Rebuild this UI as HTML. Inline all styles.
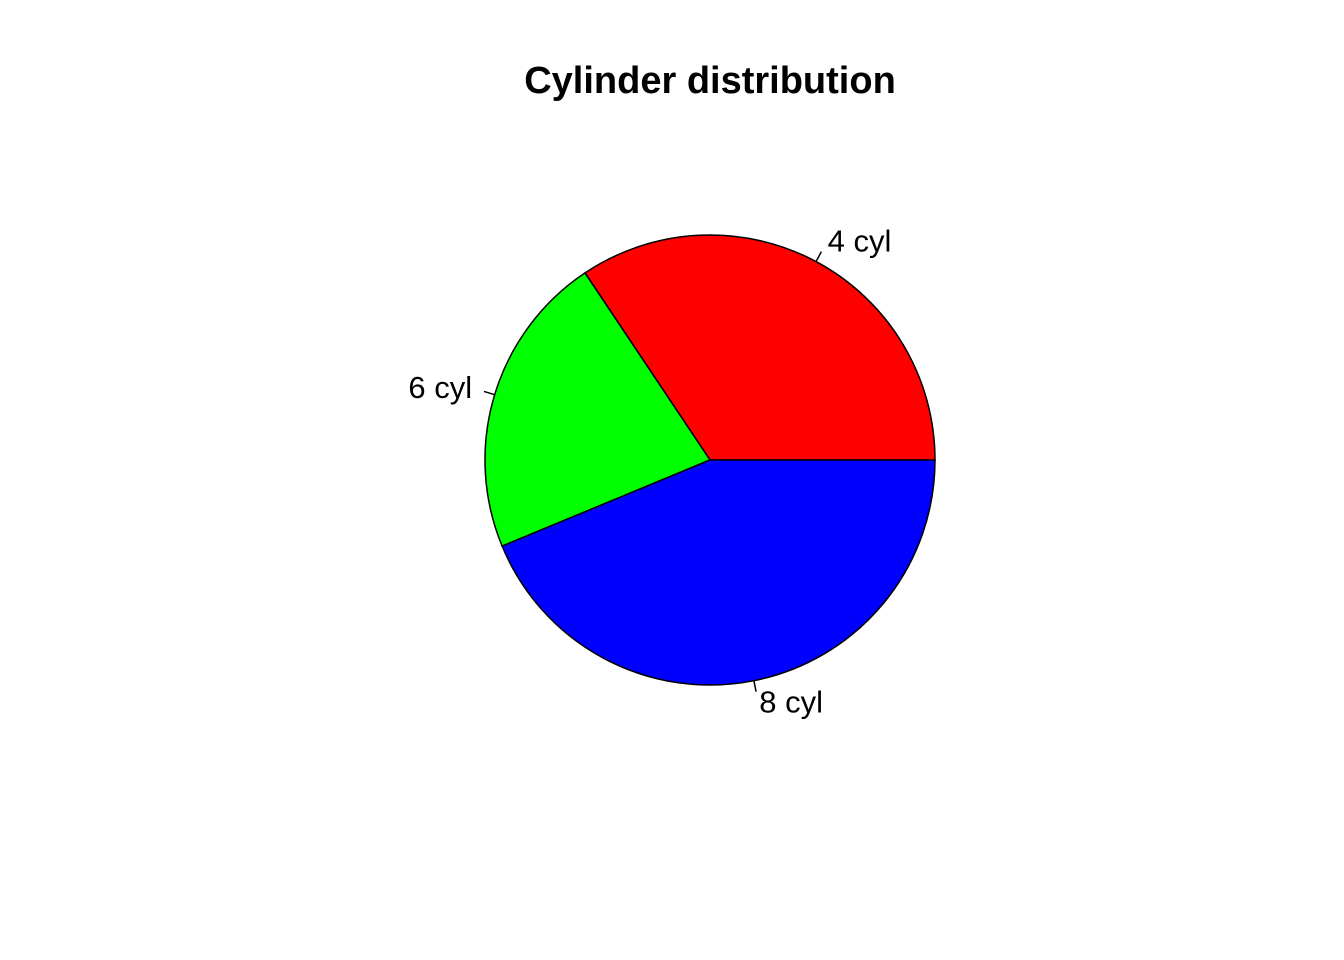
<!DOCTYPE html>
<html><head><meta charset="utf-8"><style>
html,body{margin:0;padding:0;background:#fff;}
svg{display:block;font-family:"Liberation Sans",sans-serif;}
</style></head><body>
<svg id="chart" width="1344" height="960" viewBox="0 0 1344 960">
<rect width="1344" height="960" fill="#fff"/>
<text x="710" y="93" text-anchor="middle" font-size="38" font-weight="bold">Cylinder distribution</text>
<g id="slices"></g>
</svg>
<script>
const categories = ["4 cyl", "6 cyl", "8 cyl"];
const counts = [11, 7, 14];
const sliceColors = ["#ff0000", "#00ff00", "#0000ff"];

const cx = 710, cy = 460, r = 225;
const g = document.getElementById('slices');
const NS = 'http://www.w3.org/2000/svg';
const total = counts.reduce((a, b) => a + b, 0);
function pt(a, rad) { return [cx + rad * Math.cos(a), cy - rad * Math.sin(a)]; }
let start = 0;
counts.forEach((v, i) => {
  const end = start + v / total * 2 * Math.PI;
  const [x0, y0] = pt(start, r), [x1, y1] = pt(end, r);
  const large = (end - start) > Math.PI ? 1 : 0;
  const p = document.createElementNS(NS, 'path');
  p.setAttribute('d', `M${cx},${cy} L${x0},${y0} A${r},${r} 0 ${large} 0 ${x1},${y1} Z`);
  p.setAttribute('fill', sliceColors[i]);
  p.setAttribute('stroke', '#000');
  p.setAttribute('stroke-width', '1.5');
  
  
  g.appendChild(p);
  const mid = (start + end) / 2;
  const [lx0, ly0] = pt(mid, r), [lx1, ly1] = pt(mid, r * 1.05);
  const ln = document.createElementNS(NS, 'line');
  ln.setAttribute('x1', lx0); ln.setAttribute('y1', ly0);
  ln.setAttribute('x2', lx1); ln.setAttribute('y2', ly1);
  ln.setAttribute('stroke', '#000'); ln.setAttribute('stroke-width', '1.5');
  
  
  g.appendChild(ln);
  const [tx, ty] = pt(mid, r * 1.1);
  const t = document.createElementNS(NS, 'text');
  t.setAttribute('x', Math.cos(mid) > 0 ? tx + 1 : tx - 1);
  t.setAttribute('y', ty + 10);
  t.setAttribute('font-size', '31');
  t.setAttribute('text-anchor', Math.cos(mid) > 0 ? 'start' : 'end');
  t.textContent = categories[i];
  
  
  g.appendChild(t);
  start = end;
});
</script>
</body></html>
